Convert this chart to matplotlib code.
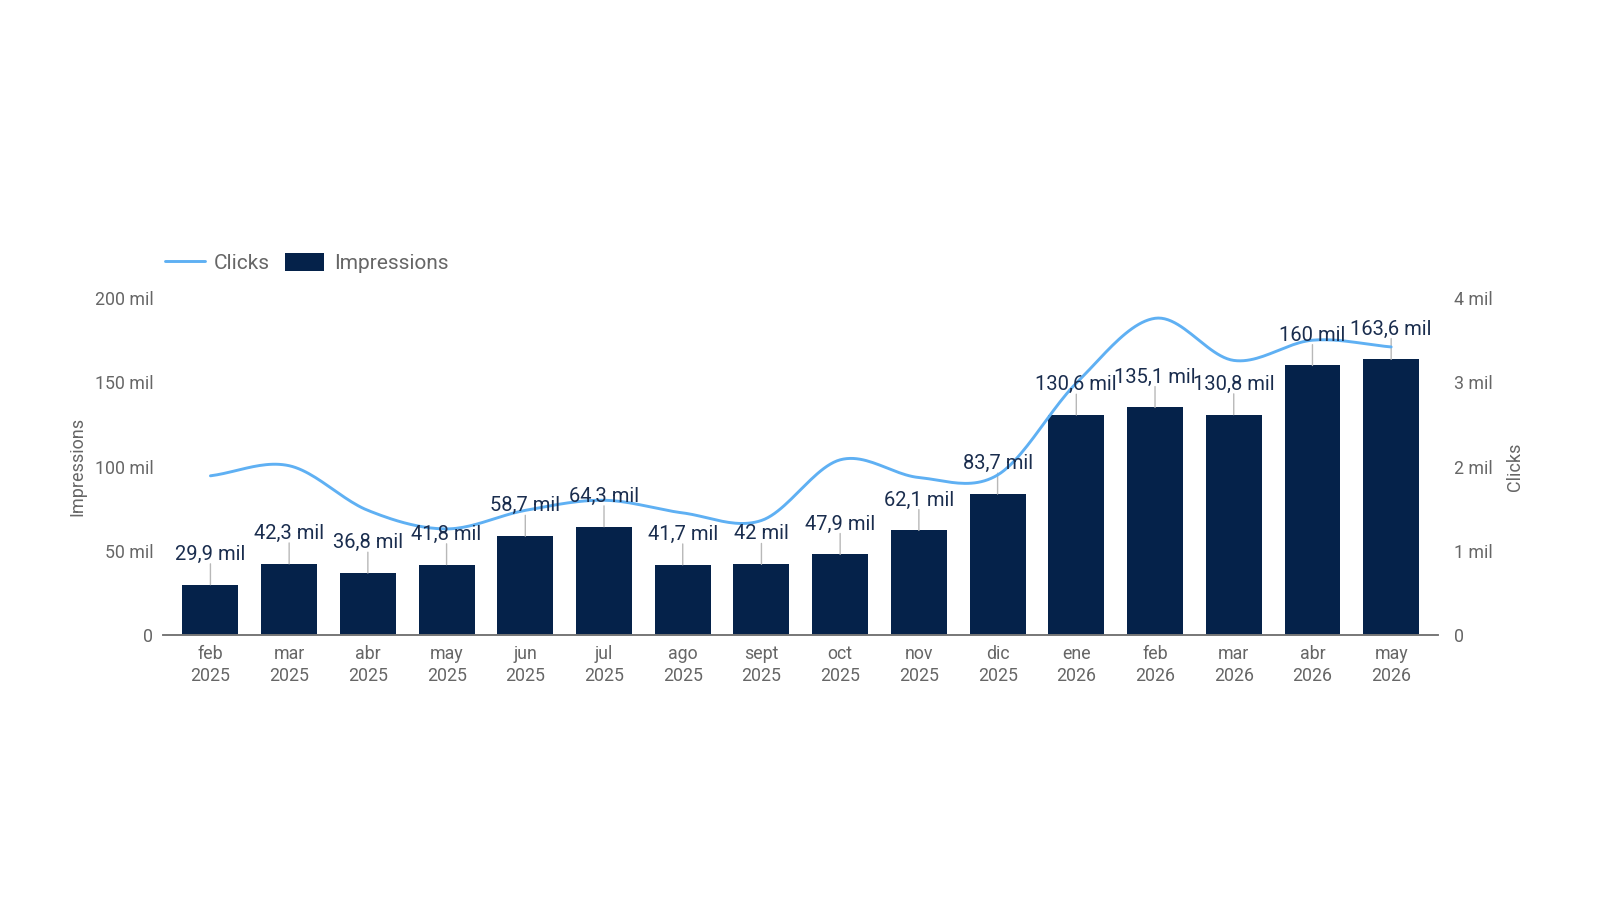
import numpy as np
import matplotlib
matplotlib.use("Agg")
import matplotlib.pyplot as plt

plt.rcParams['font.family'] = ['Roboto', 'DejaVu Sans']

# data
months = ["feb\n2025", "mar\n2025", "abr\n2025", "may\n2025", "jun\n2025", "jul\n2025",
          "ago\n2025", "sept\n2025", "oct\n2025", "nov\n2025", "dic\n2025", "ene\n2026",
          "feb\n2026", "mar\n2026", "abr\n2026", "may\n2026"]
impressions = [29.9, 42.3, 36.8, 41.8, 58.7, 64.3, 41.7, 42.0, 47.9, 62.1, 83.7,
               130.6, 135.1, 130.8, 160.0, 163.6]  # thousands
clicks = [1.89, 2.01, 1.48, 1.26, 1.48, 1.60, 1.45, 1.36, 2.08, 1.87, 1.90,
          2.99, 3.76, 3.26, 3.50, 3.42]  # thousands

BAR = "#05224a"
LINE = "#5fb0f3"
GREY = "#666666"


def smooth(xs, ys, n=24):
    # catmull-rom curve through the points, like the dashboard draws it
    xs = np.asarray(xs, float)
    ys = np.asarray(ys, float)
    px = np.concatenate([[2 * xs[0] - xs[1]], xs, [2 * xs[-1] - xs[-2]]])
    py = np.concatenate([[2 * ys[0] - ys[1]], ys, [2 * ys[-1] - ys[-2]]])
    out_x, out_y = [], []
    t = np.linspace(0, 1, n, endpoint=False)
    for i in range(1, len(px) - 2):
        for p, o in ((px, out_x), (py, out_y)):
            p0, p1, p2, p3 = p[i - 1], p[i], p[i + 1], p[i + 2]
            o.extend(0.5 * (2 * p1 + (-p0 + p2) * t + (2 * p0 - 5 * p1 + 4 * p2 - p3) * t ** 2
                            + (-p0 + 3 * p1 - 3 * p2 + p3) * t ** 3))
    out_x.append(xs[-1])
    out_y.append(ys[-1])
    return np.array(out_x), np.array(out_y)


def fmt(v):
    s = f"{v:.1f}".replace(".", ",")
    if s.endswith(",0"):
        s = s[:-2]
    return s + " mil"


fig = plt.figure(figsize=(16, 9), dpi=100)
ax = fig.add_axes([0.102, 0.2944, 0.797, 0.3744])
ax2 = ax.twinx()

x = np.arange(len(months))
ax.bar(x, impressions, width=0.71, color=BAR, zorder=2, label="Impressions")

sx, sy = smooth(x, clicks)
ax2.plot(sx, sy, color=LINE, lw=2.1, zorder=3, label="Clicks", solid_capstyle="round")

for xi, v in zip(x, impressions):
    ax.annotate("", xy=(xi, v), xytext=(0, 15), textcoords="offset points",
                arrowprops=dict(arrowstyle="-", color="#b8b8b8", lw=1.0, shrinkA=0, shrinkB=0))
for xi, v in zip(x, impressions):
    ax2.annotate(fmt(v), xy=(xi, v * 4 / 200), xytext=(0, 15), textcoords="offset points",
                 ha="center", va="bottom", fontsize=14.5, color="#1a2d4e", zorder=5)

ax.set_xlim(-0.6, len(months) - 0.4)
ax.set_ylim(0, 200)
ax2.set_ylim(0, 4)
ax.set_yticks([0, 50, 100, 150, 200])
ax.set_yticklabels(["0", "50 mil", "100 mil", "150 mil", "200 mil"])
ax2.set_yticks([0, 1, 2, 3, 4])
ax2.set_yticklabels(["0", "1 mil", "2 mil", "3 mil", "4 mil"])
ax.set_xticks(x)
ax.set_xticklabels(months, linespacing=1.28)

for a in (ax, ax2):
    for side in ("top", "left", "right"):
        a.spines[side].set_visible(False)
    a.spines["bottom"].set_color("#777777")
    a.spines["bottom"].set_linewidth(1.2)
    a.tick_params(length=0, labelsize=12.8, labelcolor=GREY)
ax.tick_params(axis="y", pad=7)
ax2.tick_params(axis="y", pad=11)
ax.tick_params(axis="x", pad=7)

ax.set_ylabel("Impressions", fontsize=13, color=GREY, labelpad=6)
ax2.set_ylabel("Clicks", fontsize=13, color=GREY, labelpad=10)

h1, l1 = ax2.get_legend_handles_labels()
h2, l2 = ax.get_legend_handles_labels()
fig.legend(h1 + h2, l1 + l2, loc="center left", bbox_to_anchor=(0.0915, 0.708),
           ncol=2, frameon=False, fontsize=15, labelcolor=GREY,
           handlelength=1.9, handleheight=1.0, columnspacing=0.7, handletextpad=0.45)

fig.savefig("out.png", dpi=100, facecolor="white")
